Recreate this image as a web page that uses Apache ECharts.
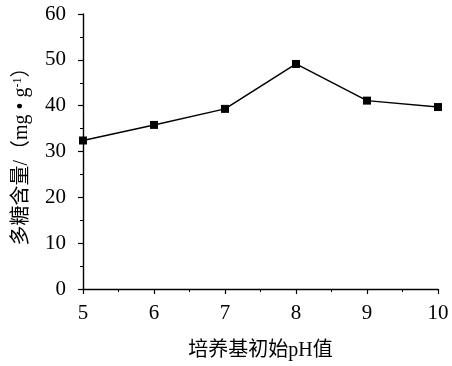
<!DOCTYPE html>
<html>
<head>
<meta charset="utf-8">
<script src="https://cdn.jsdelivr.net/npm/echarts@6/dist/echarts.min.js"></script>
<style>html,body{margin:0;padding:0;background:#fff;}#c{width:452px;height:366px;}</style>
</head>
<body>
<div id="c"></div>
<script>
var categories = [5, 6, 7, 8, 9, 10];
var values = [32.4, 35.8, 39.3, 49.1, 41.1, 39.7];
var yTicks = [0, 10, 20, 30, 40, 50, 60];
var xName = '培养基初始pH值';
var yName = '多糖含量/（mg • g{sup|-1}）';

var chart = echarts.init(document.getElementById('c'));
var serif = '"Liberation Serif", "Times New Roman", serif';
var cjk = '"Liberation Serif", "Noto Sans CJK SC", serif';
chart.setOption({
  animation: false,
  backgroundColor: '#fff',
  grid: {left: 83, right: 14, top: 14, bottom: 76, containLabel: false},
  xAxis: {
    type: 'value', min: 5, max: 10, interval: 1,
    name: xName, nameLocation: 'middle', nameGap: 52,
    nameTextStyle: {fontFamily: cjk, fontSize: 20, color: '#000'},
    axisLine: {show: true, onZero: false, lineStyle: {color: '#000', width: 1.4}},
    axisTick: {show: true, inside: false, length: 5, lineStyle: {color: '#000', width: 1.2}},
    minorTick: {show: true, splitNumber: 2, length: 3, lineStyle: {color: '#000', width: 1}},
    axisLabel: {fontFamily: serif, fontSize: 21, color: '#000', margin: 14},
    splitLine: {show: false}
  },
  yAxis: {
    type: 'value', min: yTicks[0], max: yTicks[yTicks.length - 1], interval: 10,
    name: yName, nameLocation: 'middle', nameGap: 51, nameRotate: 90,
    nameTextStyle: {fontFamily: cjk, fontSize: 20, color: '#000',
      rich: {sup: {fontFamily: serif, fontSize: 12, verticalAlign: 'top', padding: [0,0,8,0], color: '#000'}}},
    axisLine: {show: true, onZero: false, lineStyle: {color: '#000', width: 1.4}},
    axisTick: {show: true, inside: false, length: 5, lineStyle: {color: '#000', width: 1.2}},
    minorTick: {show: true, splitNumber: 2, length: 3, lineStyle: {color: '#000', width: 1}},
    axisLabel: {fontFamily: serif, fontSize: 21, color: '#000', margin: 17},
    splitLine: {show: false}
  },
  series: [{
    type: 'line',
    data: categories.map(function (c, i) { return [c, values[i]]; }),
    symbol: 'rect', symbolSize: 8,
    lineStyle: {color: '#000', width: 1.5},
    itemStyle: {color: '#000'},
    clip: false
  }]
});
</script>
</body>
</html>
